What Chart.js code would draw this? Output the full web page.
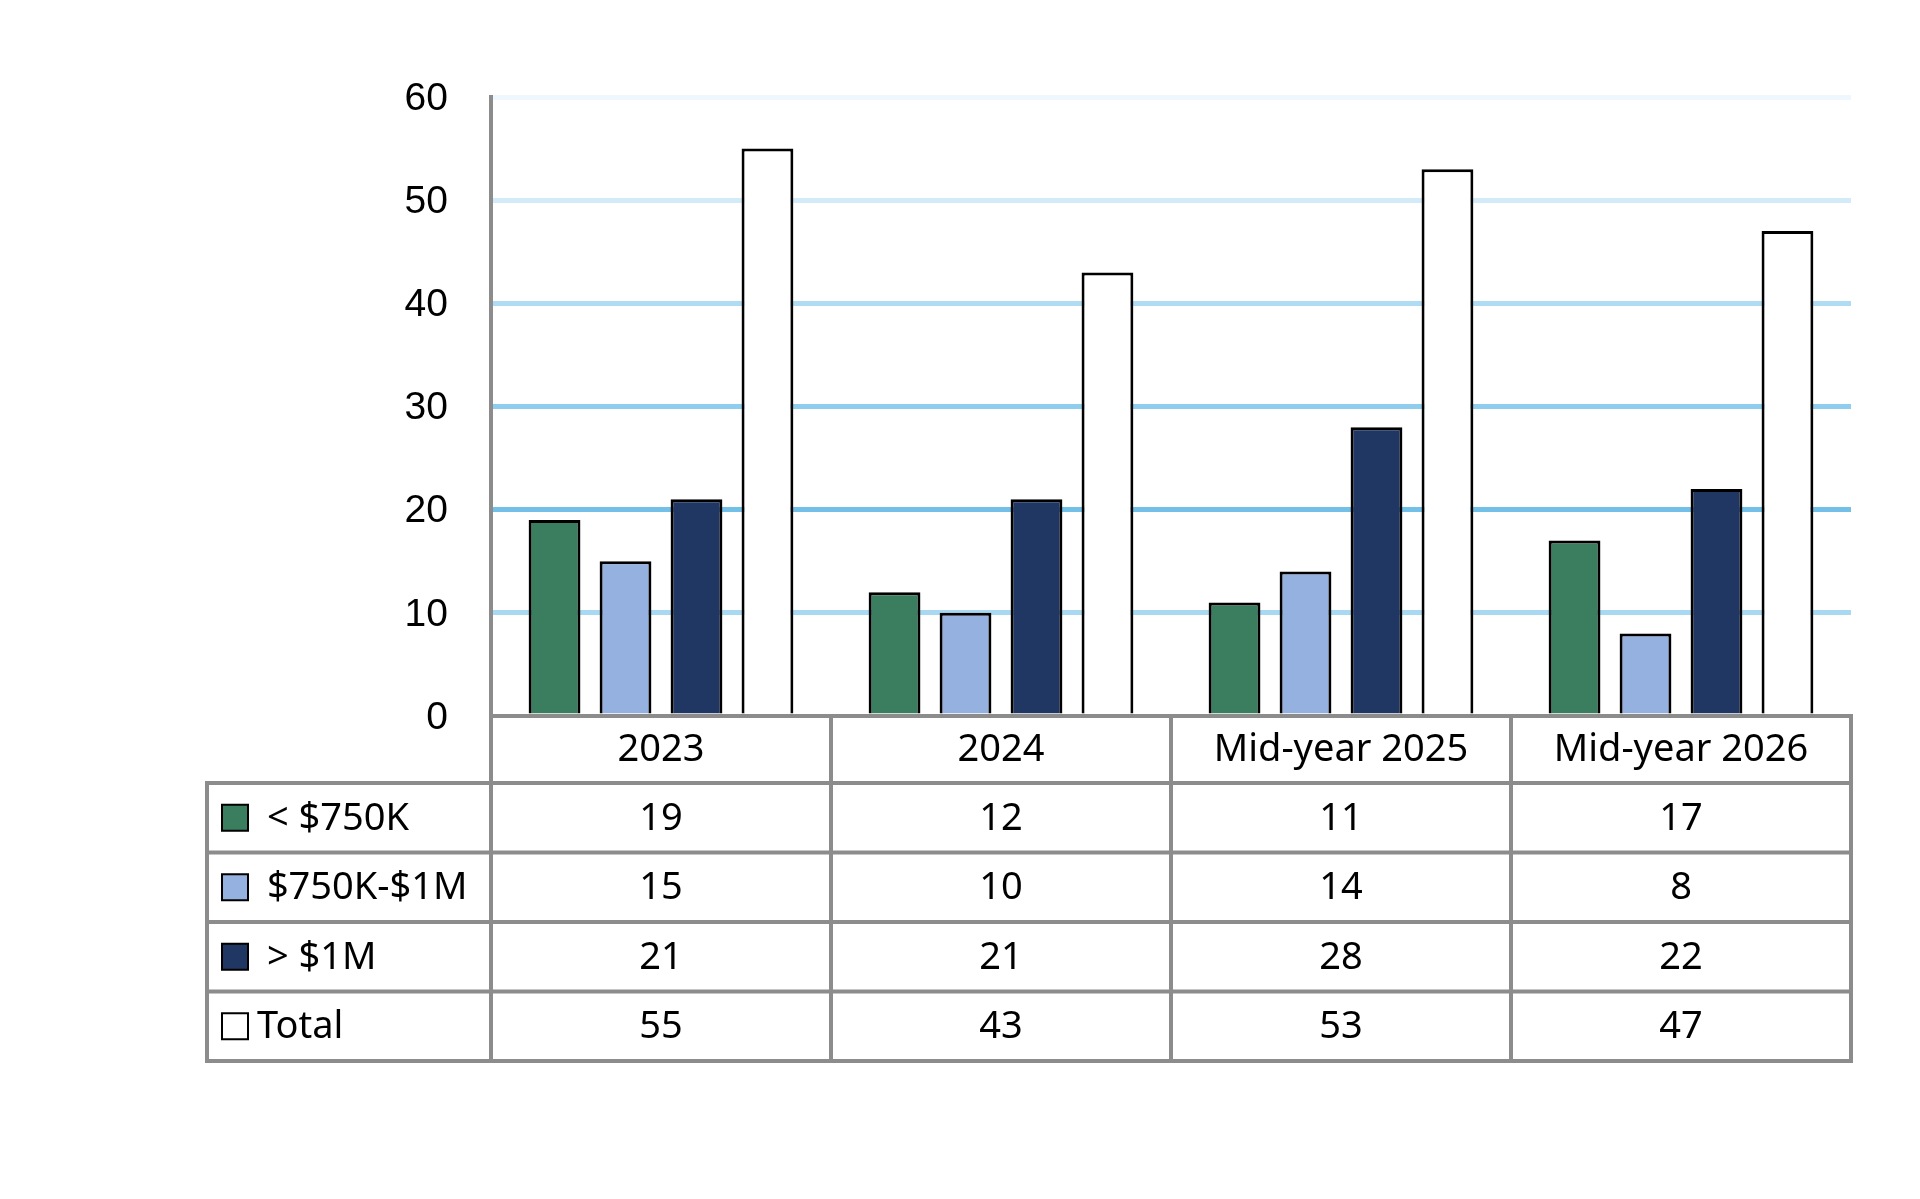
<!DOCTYPE html>
<html>
<head>
<meta charset="utf-8">
<script src="https://cdn.jsdelivr.net/npm/chart.js@4/dist/chart.umd.min.js"></script>
<style>
  html, body { margin: 0; padding: 0; background: #ffffff; }
  #wrap { width: 1920px; height: 1199px; position: relative; }
</style>
</head>
<body>
<div id="wrap"><canvas id="c"></canvas></div>
<script>
// ---- data ----
const categories = ["2023", "2024", "Mid-year 2025", "Mid-year 2026"];
const seriesNames = [" < $750K", " $750K-$1M", " > $1M", "Total"];
const under750K = [19, 12, 11, 17];
const from750Kto1M = [15, 10, 14, 8];
const over1M = [21, 21, 28, 22];
const totals = [55, 43, 53, 47];
const yTicks = [0, 10, 20, 30, 40, 50, 60];

// ---- styles ----
const seriesColors = ["#3a7d5f", "#95b1df", "#213763", "#ffffff"];
const gridColors = { 0: "rgba(0,0,0,0)", 10: "#a9d9f2", 20: "#72c0e8", 30: "#8fcdee", 40: "#b0dcf3", 50: "#d3eaf8", 60: "#eef7fd" };
const lineGray = "#8c8c8c";
const tableFont = "38px 'Noto Sans'";

const seriesValues = [under750K, from750Kto1M, over1M, totals];

const datasets = seriesValues.map((vals, i) => ({
  label: seriesNames[i],
  data: vals,
  backgroundColor: seriesColors[i],
  borderColor: "#000000",
  borderWidth: 3,
  borderSkipped: "bottom",
  categoryPercentage: 0.835,
  barPercentage: 0.73
}));

const tablePlugin = {
  id: "dataTable",
  afterDraw(chart) {
    const ctx = chart.ctx;
    const area = chart.chartArea;
    const xs = chart.scales.x;
    const headerH = 67;
    const rowH = 69.5;
    const tableLeft = 207;
    const top = area.bottom;
    const headerBottom = top + headerH;
    const rowLines = [headerBottom];
    for (let r = 1; r <= seriesValues.length; r++) rowLines.push(headerBottom + r * rowH);
    const bottom = rowLines[rowLines.length - 1];
    const catW = (area.right - area.left) / categories.length;
    const colEdges = [];
    for (let i = 0; i <= categories.length; i++) colEdges.push(area.left + i * catW);

    ctx.save();
    ctx.fillStyle = "#000000";
    ctx.font = tableFont;
    ctx.textAlign = "center";
    ctx.textBaseline = "middle";
    categories.forEach((c, i) => {
      const cx = xs.getPixelForValue(i);
      ctx.fillText(c, cx, (top + headerBottom) / 2 + 1);
      seriesValues.forEach((vals, r) => {
        ctx.fillText(String(vals[i]), cx, (rowLines[r] + rowLines[r + 1]) / 2 + 1);
      });
    });
    ctx.textAlign = "left";
    seriesValues.forEach((vals, r) => {
      const cy = (rowLines[r] + rowLines[r + 1]) / 2;
      const s = 26;
      ctx.fillStyle = seriesColors[r];
      ctx.fillRect(222, cy - s / 2, s, s);
      ctx.strokeStyle = "#000000";
      ctx.lineWidth = 2;
      ctx.strokeRect(222, cy - s / 2, s, s);
      ctx.fillStyle = "#000000";
      ctx.fillText(seriesNames[r], 257, cy + 1);
    });

    ctx.strokeStyle = lineGray;
    ctx.lineWidth = 4;
    ctx.lineCap = "square";
    ctx.beginPath();
    ctx.moveTo(area.left, area.top);
    ctx.lineTo(area.left, bottom);
    ctx.moveTo(area.left, top);
    ctx.lineTo(area.right, top);
    rowLines.forEach(y => { ctx.moveTo(tableLeft, y); ctx.lineTo(area.right, y); });
    ctx.moveTo(tableLeft, headerBottom); ctx.lineTo(tableLeft, bottom);
    colEdges.slice(1).forEach(x => { ctx.moveTo(x, top); ctx.lineTo(x, bottom); });
    ctx.stroke();
    ctx.restore();
  }
};

new Chart(document.getElementById("c"), {
  type: "bar",
  data: { labels: categories, datasets },
  plugins: [tablePlugin],
  options: {
    responsive: true,
    maintainAspectRatio: false,
    animation: false,
    devicePixelRatio: 1,
    layout: { padding: { left: 0, right: 69, top: 97, bottom: 0 } },
    plugins: { legend: { display: false }, tooltip: { enabled: false } },
    scales: {
      x: {
        grid: { display: false },
        border: { display: false },
        ticks: { display: false },
        afterFit(scale) { scale.height = 1199 - 716; }
      },
      y: {
        min: 0,
        max: 60,
        afterBuildTicks(scale) { scale.ticks = yTicks.map(v => ({ value: v })); },
        afterFit(scale) { scale.width = 491; },
        grid: {
          drawTicks: false,
          lineWidth: 5,
          color: c => gridColors[c.tick ? c.tick.value : 0] || "rgba(0,0,0,0)"
        },
        border: { display: false },
        ticks: {
          padding: 43,
          labelOffset: 2,
          color: "#000000",
          font: { family: "'Liberation Sans', Arial, sans-serif", size: 39 }
        }
      }
    }
  }
});
</script>
</body>
</html>
